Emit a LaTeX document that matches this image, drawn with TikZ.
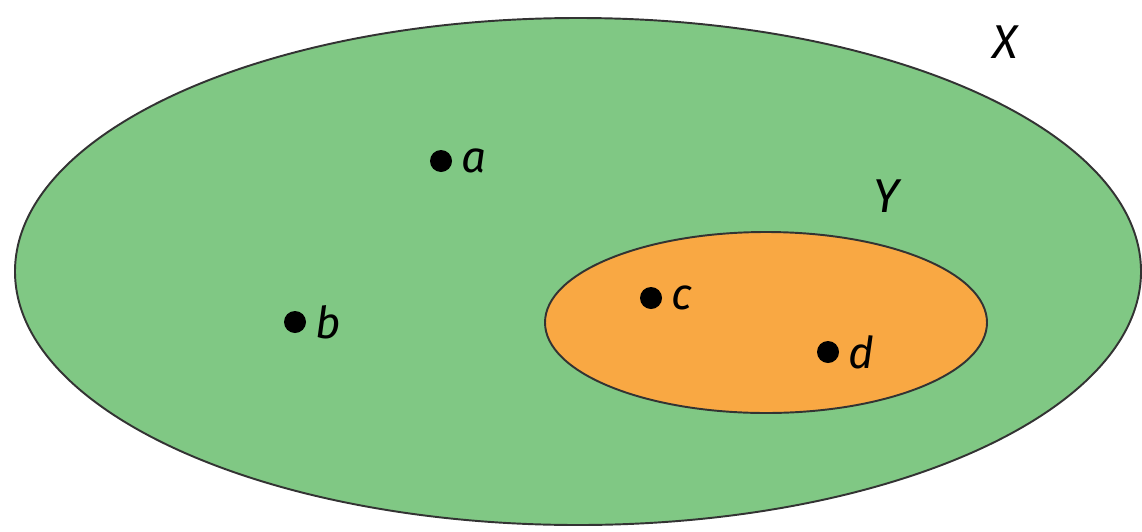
\documentclass[tikz,border=0pt]{standalone}
\usepackage{fontspec}
\setmainfont{Fira Sans}
\usetikzlibrary{positioning, shapes.geometric}
\definecolor{setgreen}{HTML}{80C884}
\definecolor{setorange}{HTML}{F9A843}

\begin{document}
\begin{tikzpicture}[
    font=\fontsize{25}{30}\selectfont\itshape,
    setX/.style={ellipse, draw=black!80, line width=1.1pt, fill=setgreen,
                 inner sep=0pt, minimum width=22.52cm, minimum height=10.14cm},
    setY/.style={ellipse, draw=black!80, line width=1.1pt, fill=setorange,
                 inner sep=0pt, minimum width=8.84cm, minimum height=3.62cm},
    elem/.style={circle, fill=black, inner sep=0pt, minimum size=0.44cm,
                 label={[label distance=0.06cm]right:#1}},
    setname/.style={font=\fontsize{27}{30}\selectfont\itshape}
  ]
    % fixed frame with the reference's proportions
    \useasboundingbox (0,0) rectangle (22.84cm,-10.62cm);

    % the two sets
    \node[setX] (X) at (11.56cm, -5.43cm) {};
    \node[setY] (Y) at (15.32cm, -6.45cm) {};
    \node[setname] (Xname) at (20.1cm, -0.84cm) {X};
    \node[setname] (Yname) at (17.72cm, -3.92cm) {Y};

    % elements
    \node[elem=a] (a) at ( 8.82cm, -3.22cm) {};
    \node[elem=b] (b) at ( 5.90cm, -6.44cm) {};
    \node[elem=c] (c) at (13.02cm, -5.96cm) {};
    \node[elem=d] (d) at (16.56cm, -7.04cm) {};
  \end{tikzpicture}
\end{document}
